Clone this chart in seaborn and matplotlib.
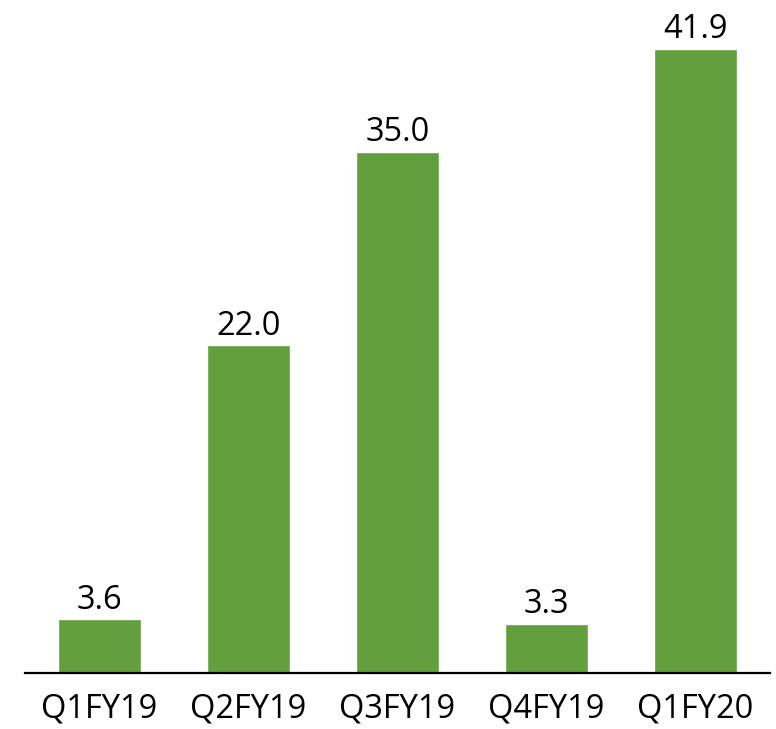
import matplotlib
matplotlib.use("Agg")
import matplotlib.pyplot as plt
import seaborn as sns
import pandas as pd

quarters = ["Q1FY19", "Q2FY19", "Q3FY19", "Q4FY19", "Q1FY20"]
values = [3.6, 22.0, 35.0, 3.3, 41.9]

df = pd.DataFrame({"Quarter": quarters, "Value": values})

sns.set_style("white")
plt.rcParams["font.family"] = ["Open Sans", "DejaVu Sans"]

fig = plt.figure(figsize=(7.76, 7.29), dpi=100)
ax = fig.add_axes([25 / 776, 56 / 729, 745 / 776, 670 / 729])

sns.barplot(data=df, x="Quarter", y="Value", color="#62a03e", saturation=1,
            width=0.56, ax=ax)

for c in ax.containers:
    ax.bar_label(c, fmt="%.1f", padding=2, fontsize=23.5, color="#000000")

ax.set_xlim(-0.5, 4.5)
ax.set_ylim(0, 45)
ax.set_xlabel("")
ax.set_ylabel("")
ax.set_yticks([])
ax.tick_params(axis="x", length=0, pad=14, labelsize=23.5, colors="#000000")
for s in ["top", "right", "left"]:
    ax.spines[s].set_visible(False)
ax.spines["bottom"].set_color("#000000")
ax.spines["bottom"].set_linewidth(1.6)

fig.savefig("out.png", dpi=100)
